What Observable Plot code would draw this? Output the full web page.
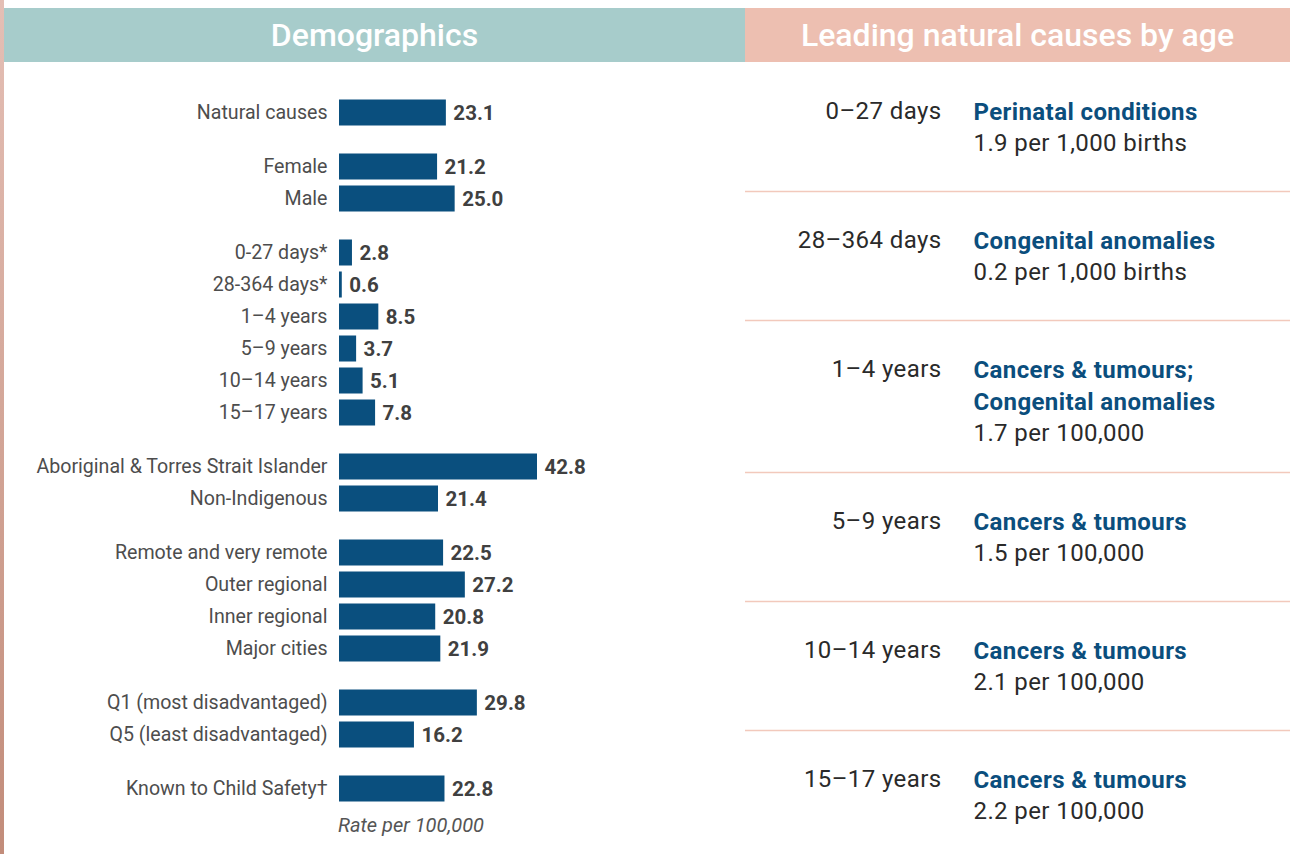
<!DOCTYPE html>
<html>
<head>
<meta charset="utf-8">
<script src="https://cdn.jsdelivr.net/npm/d3@7"></script>
<script src="https://cdn.jsdelivr.net/npm/@observablehq/plot@0.6"></script>
<style>
  html, body { margin: 0; padding: 0; background: #fff; }
  #wrap { position: relative; width: 1290px; height: 854px; overflow: hidden; font-family: Roboto, "Noto Sans", sans-serif; }
  #strip { position: absolute; left: 0; top: 0; width: 4px; height: 854px; background: linear-gradient(#e4bfb5, #c28c7a); }
  .hdr { position: absolute; top: 8px; height: 54px; line-height: 54px; color: #fff; font-size: 32px; font-weight: 500; text-align: center; }
  #h1 { left: 4px; width: 741px; background: #a7cccb; }
  #h2 { left: 745px; width: 545px; background: #edbfb1; }
  #left { position: absolute; left: 0; top: 62px; }
  #right { position: absolute; left: 745px; top: 62px; }
  #right text { letter-spacing: 0.4px; }
  #cap { position: absolute; left: 338px; top: 813px; font-style: italic; font-size: 20px; color: #555; }
</style>
</head>
<body>
<div id="wrap">
  <div id="strip"></div>
  <div class="hdr" id="h1">Demographics</div>
  <div class="hdr" id="h2">Leading natural causes by age</div>
  <div id="left"></div>
  <div id="right"></div>
  <div id="cap">Rate per 100,000</div>
</div>
<script>
// ---- Demographics data (rate per 100,000) ----
const groups = [
  ["Natural causes"],
  ["Female", "Male"],
  ["0-27 days*", "28-364 days*", "1–4 years", "5–9 years", "10–14 years", "15–17 years"],
  ["Aboriginal & Torres Strait Islander", "Non-Indigenous"],
  ["Remote and very remote", "Outer regional", "Inner regional", "Major cities"],
  ["Q1 (most disadvantaged)", "Q5 (least disadvantaged)"],
  ["Known to Child Safety†"]
];
const rates = [
  [23.1],
  [21.2, 25.0],
  [2.8, 0.6, 8.5, 3.7, 5.1, 7.8],
  [42.8, 21.4],
  [22.5, 27.2, 20.8, 21.9],
  [29.8, 16.2],
  [22.8]
];

// ---- Leading natural causes by age ----
const ages = ["0–27 days", "28–364 days", "1–4 years", "5–9 years", "10–14 years", "15–17 years"];
const causes = [
  ["Perinatal conditions"],
  ["Congenital anomalies"],
  ["Cancers & tumours;", "Congenital anomalies"],
  ["Cancers & tumours"],
  ["Cancers & tumours"],
  ["Cancers & tumours"]
];
const causeRates = ["1.9 per 1,000 births", "0.2 per 1,000 births", "1.7 per 100,000", "1.5 per 100,000", "2.1 per 100,000", "2.2 per 100,000"];

// layout constants
const ROW = 32, GAP = 22, TOP0 = 50.5, BAR = 26;
const FONT = "Roboto, 'Noto Sans', sans-serif";

// build table for bars
const rows = [];
let idx = 0;
groups.forEach((g, gi) => g.forEach((label, j) => {
  rows.push({label, value: rates[gi][j], pos: TOP0 + ROW * idx + GAP * gi});
  idx++;
}));

const leftH = 792;
const leftPlot = Plot.plot({
  width: 745, height: leftH,
  margin: 0,
  style: {fontFamily: FONT, background: "transparent"},
  x: {domain: [0, d3.max(rows, d => d.value)], range: [339, 537], axis: null},
  y: {domain: [0, leftH], range: [0, leftH], axis: null},
  marks: [
    Plot.rect(rows, {x1: 0, x2: "value", y1: d => d.pos - BAR / 2, y2: d => d.pos + BAR / 2, fill: "#0a4f7e"}),
    Plot.text(rows, {x: 0, y: "pos", text: "label", textAnchor: "end", dx: -12, fontSize: 19.6, fill: "#4d4d4d"}),
    Plot.text(rows, {x: "value", y: "pos", text: d => d.value.toFixed(1), textAnchor: "start", dx: 7, fontSize: 20.5, fontWeight: "bold", fill: "#404040"})
  ]
});
document.getElementById("left").appendChild(leftPlot);

// right panel layout
const LINE = 32, FIRST = 49, PAD = 83, PER = 23;
const rtab = [];
const dividers = [];
let acc = 0;
ages.forEach((a, k) => {
  const n = causes[k].length + 1;
  rtab.push({age: a, y: acc + FIRST, cause: causes[k].join("\n"), rate: causeRates[k], rateY: acc + FIRST + LINE * causes[k].length});
  acc += PAD + PER * n;
  if (k < ages.length - 1) dividers.push({y: acc});
});

const rightH = 792;
const rightPlot = Plot.plot({
  width: 545, height: rightH,
  margin: 0,
  style: {fontFamily: FONT, background: "transparent"},
  x: {domain: [0, 545], range: [0, 545], axis: null},
  y: {domain: [0, rightH], range: [0, rightH], axis: null},
  marks: [
    Plot.ruleY(dividers, {y: "y", x1: 0, x2: 545, stroke: "#f2c9bc", strokeWidth: 1.5}),
    Plot.text(rtab, {x: 196, y: "y", text: "age", textAnchor: "end", fontSize: 24, fill: "#2a2a2a"}),
    Plot.text(rtab, {x: 228, y: "y", text: "cause", textAnchor: "start", lineAnchor: "top", dy: -14, lineHeight: 32 / 24, fontSize: 24, fontWeight: "bold", fill: "#0b4e7d"}),
    Plot.text(rtab, {x: 228, y: "rateY", text: "rate", textAnchor: "start", fontSize: 24, fill: "#2a2a2a"})
  ]
});
document.getElementById("right").appendChild(rightPlot);
</script>
</body>
</html>
